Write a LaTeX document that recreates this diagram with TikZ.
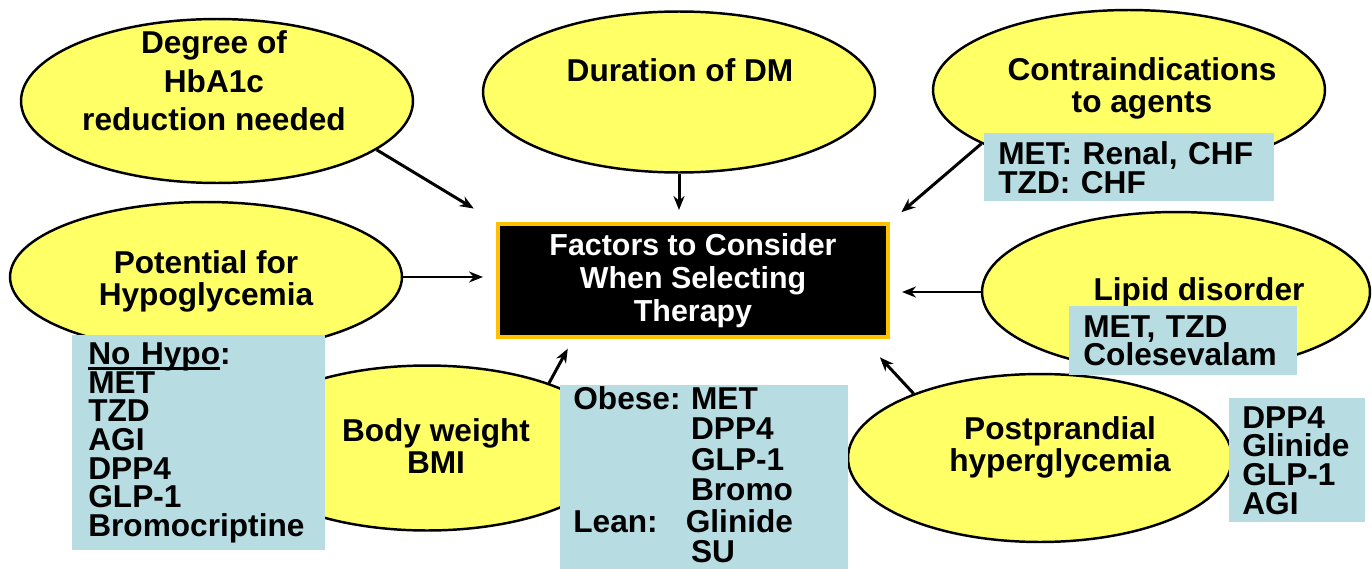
\documentclass[tikz,border=0pt]{standalone}
\usepackage{fontspec}
\setmainfont{Liberation Sans}
\usetikzlibrary{shapes.geometric,arrows.meta,positioning}
\definecolor{bubble}{RGB}{255,255,102}
\definecolor{notebg}{RGB}{183,221,226}
\definecolor{gold}{RGB}{255,192,0}
\newcommand\baseline[1]{\leavevmode\setbox0\hbox{#1}\rlap{\vrule height -1.6pt depth 3pt width \wd0}\box0}

\begin{document}
\begin{tikzpicture}[x=0.02cm,y=-0.02cm,
    factor/.style={ellipse,draw=black,line width=1.4pt,fill=bubble,inner sep=0pt},
    ftext/.style={align=center,inner sep=0pt,font=\fontsize{18}{18.2}\selectfont\bfseries},
    drug/.style={rectangle,fill=notebg,anchor=north west,inner ysep=0pt,inner xsep=0.26cm,
        align=left,font=\fontsize{18}{16.3}\selectfont\bfseries},
    arr/.style={-{Stealth[length=0.28cm,width=0.22cm]},line width=1.7pt}]
    \useasboundingbox (0,0) rectangle (1372,568);

    % the seven factors
    \node[factor,minimum width=7.84cm,minimum height=3.28cm] (deg) at (217,101) {};
    \node[factor,minimum width=7.84cm,minimum height=3.22cm] (dur) at (679,92) {};
    \node[factor,minimum width=7.84cm,minimum height=3.2cm] (ci) at (1129,90) {};
    \node[factor,minimum width=7.84cm,minimum height=3.0cm] (pot) at (206,277) {};
    \node[factor,minimum width=7.76cm,minimum height=3.2cm] (lip) at (1176,292) {};
    \node[factor,minimum width=7.68cm,minimum height=3.3cm] (bw) at (427,448) {};
    \node[factor,minimum width=7.68cm,minimum height=3.36cm] (ppg) at (1040,458) {};

    \node[ftext,font=\fontsize{18}{22}\selectfont\bfseries] (deg-t) at (214,81) {Degree of\\HbA1c\\reduction needed};
    \node[ftext] (dur-t) at (680,70) {Duration of DM};
    \node[ftext] (ci-t) at (1142,88) {Contraindications\\to agents};
    \node[ftext] (pot-t) at (206,281) {Potential for\\Hypoglycemia};
    \node[ftext] (lip-t) at (1199,292) {Lipid disorder};
    \node[ftext] (bw-t) at (436,446) {Body weight\\BMI};
    \node[ftext] (ppg-t) at (1060,447) {Postprandial\\hyperglycemia};

    % agents
    \node[drug,text width=4.42cm,inner xsep=0.32cm,minimum height=4.3cm] (nohypo) at (72,335)
        {\baseline{No Hypo}:\\MET\\TZD\\AGI\\DPP4\\GLP-1\\Bromocriptine};
    \node[drug,text width=5.24cm,inner xsep=0.28cm,minimum height=1.36cm,
        font=\fontsize{18}{15.3}\selectfont\bfseries] (cibox) at (984,133)
        {MET: Renal, CHF\\TZD: CHF};
    \node[drug,text width=4.0cm,inner xsep=0.28cm,minimum height=1.38cm] (lipbox) at (1069,306)
        {MET, TZD\\Colesevalam};
    \node[drug,text width=5.24cm,minimum height=3.74cm] (obbox) at (560,385)
        {\begin{tabular}{@{}l@{\hspace{6pt}}l@{}}
        Obese: & MET\\ & DPP4\\ & GLP-1\\ & Bromo\\ Lean: & \hspace*{-3pt}Glinide\\ & SU
        \end{tabular}};
    \node[drug,text width=2.2cm,minimum height=2.48cm] (ppbox) at (1229,398)
        {DPP4\\Glinide\\GLP-1\\AGI};

    % centre
    \node[draw=gold,line width=2.3pt,fill=black,text=white,minimum width=7.8cm,minimum height=2.26cm,
        align=center,font=\fontsize{17.3}{18.7}\selectfont\bfseries] (box) at (693,280.5)
        {Factors to Consider\\When Selecting\\Therapy};

    \path (deg.-17) edge[arr,shorten >=0.52cm] (box.north west)
        (dur.south) edge[arr,shorten >=0.24cm] (dur.south |- box.north)
        (ci.200) edge[arr,shorten >=0.3cm] (box.north east)
        (pot.east) edge[arr,shorten >=0.26cm] (pot.east -| box.west)
        (lip.west) edge[arr,shorten >=0.24cm] (lip.west -| box.east)
        (bw.28) edge[arr,shorten >=0.22cm] (box.206.6)
        (ppg.153) edge[arr,shorten >=0.5cm] (box.-19.5);

\end{tikzpicture}
\end{document}
